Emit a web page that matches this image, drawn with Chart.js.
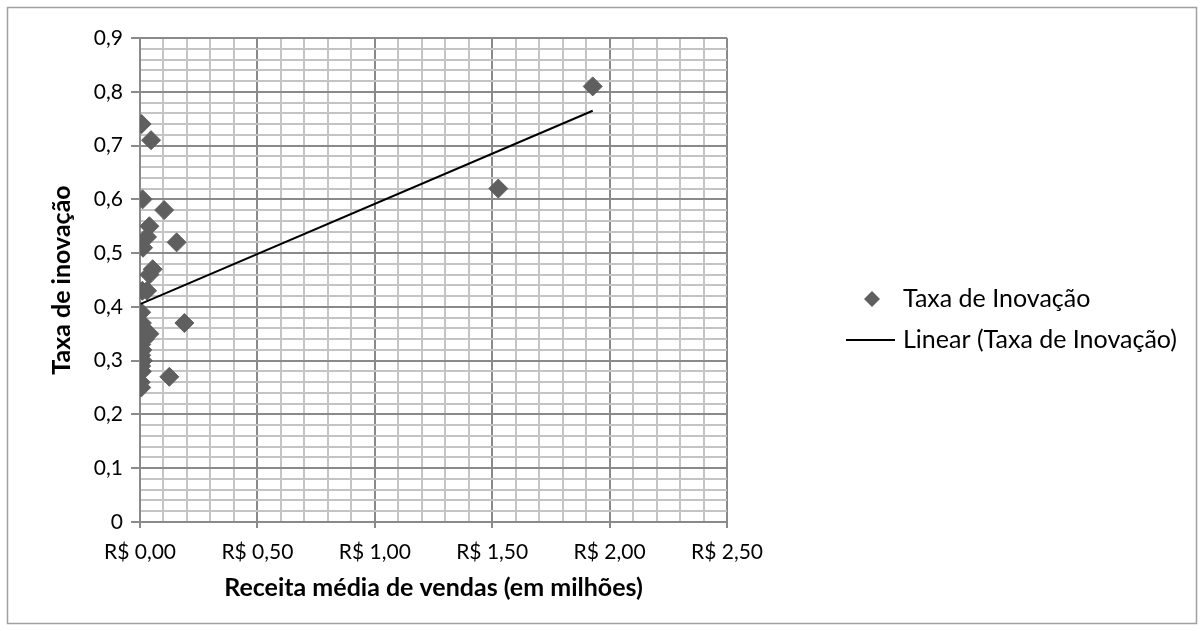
<!DOCTYPE html>
<html>
<head>
<meta charset="utf-8">
<script src="https://cdn.jsdelivr.net/npm/chart.js@4.4.1/dist/chart.umd.min.js"></script>
<style>
  html, body { margin: 0; padding: 0; background: #fff; }
  #wrap { width: 1204px; height: 631px; }
</style>
</head>
<body>
<div id="wrap"><canvas id="chart" width="1204" height="631"></canvas></div>
<script>
// ==================== DADOS ====================
// receita média de vendas (R$ milhões) e taxa de inovação de cada empresa
const receita = [0.007, 0.047, 0.011, 0.103, 0.040, 0.030, 0.013, 0.156, 0.054, 0.040,
                 0.010, 0.030, 0.005, 0.008, 0.040, 0.005, 0.005, 0.005, 0.005, 0.003,
                 0.005, 0.189, 0.125, 1.526, 1.928, 0.015, 0.020, 0.010, 0.005, 0.012,
                 0.008];
const taxa    = [0.74, 0.71, 0.60, 0.58, 0.55, 0.53, 0.51, 0.52, 0.47, 0.46,
                 0.43, 0.43, 0.39, 0.37, 0.35, 0.33, 0.31, 0.30, 0.29, 0.26,
                 0.25, 0.37, 0.27, 0.62, 0.81, 0.36, 0.34, 0.32, 0.34, 0.30,
                 0.28];
const serieLabel = 'Taxa de Inovação';
const trendLabel = 'Linear (Taxa de Inovação)';
const xTitle = 'Receita média de vendas (em milhões)';
const yTitle = 'Taxa de inovação';

const FONT = 'Lato, "Open Sans", sans-serif';
const MAJ = '#8a8a8a', MIN = '#c4c4c4', MARK = '#5f5f5f';

// linha de tendência linear (mínimos quadrados, como no Excel)
function linFit(xs, ys) {
  const n = xs.length;
  const mx = xs.reduce((s, v) => s + v, 0) / n;
  const my = ys.reduce((s, v) => s + v, 0) / n;
  let sxy = 0, sxx = 0;
  xs.forEach((x, i) => { sxy += (x - mx) * (ys[i] - my); sxx += (x - mx) * (x - mx); });
  const b = sxy / sxx;
  return { a: my - b * mx, b };
}
const fit = linFit(receita, taxa);
const xLo = Math.min(...receita), xHi = Math.max(...receita);

const isMul = (v, step) => Math.abs(v / step - Math.round(v / step)) < 1e-6;
const brl = v => 'R$ ' + v.toFixed(2).replace('.', ',');
const dec = v => v === 0 ? '0' : (Math.round(v * 10) / 10).toFixed(1).replace('.', ',');

// moldura externa
const frame = {
  id: 'frame',
  beforeDraw(chart) {
    const c = chart.ctx;
    c.save();
    c.fillStyle = '#fff';
    c.fillRect(0, 0, chart.width, chart.height);
    c.strokeStyle = '#a0a0a0';
    c.lineWidth = 1.5;
    c.strokeRect(7.5, 7.5, chart.width - 15, chart.height - 15);
    c.restore();
  }
};

// legenda à direita (desenhada à mão para posicionar como no original)
const sideLegend = {
  id: 'sideLegend',
  afterDraw(chart, args, o) {
    const c = chart.ctx, ds = chart.data.datasets;
    const x0 = chart.chartArea.right;
    c.save();
    c.font = o.font;
    c.textBaseline = 'middle';
    // item 1: losango
    let y = o.y1;
    c.fillStyle = MARK;
    c.beginPath();
    c.moveTo(x0 + o.markX, y - o.r);
    c.lineTo(x0 + o.markX + o.r, y);
    c.lineTo(x0 + o.markX, y + o.r);
    c.lineTo(x0 + o.markX - o.r, y);
    c.closePath();
    c.fill();
    c.fillStyle = '#000';
    c.fillText(ds[0].label, x0 + o.textX, y);
    // item 2: linha
    y = o.y2;
    c.strokeStyle = '#000';
    c.lineWidth = 2;
    c.beginPath();
    c.moveTo(x0 + o.lineX0, y);
    c.lineTo(x0 + o.lineX1, y);
    c.stroke();
    c.fillText(ds[1].label, x0 + o.textX, y);
    c.restore();
  }
};

new Chart(document.getElementById('chart'), {
  type: 'scatter',
  data: {
    datasets: [
      {
        label: serieLabel,
        data: receita.map((x, i) => ({ x, y: taxa[i] })),
        pointStyle: 'rectRot',
        pointRadius: 9.5,
        backgroundColor: MARK,
        borderColor: MARK,
        borderWidth: 1,
        order: 2
      },
      {
        label: trendLabel,
        type: 'line',
        data: [{ x: xLo, y: fit.a + fit.b * xLo }, { x: xHi, y: fit.a + fit.b * xHi }],
        borderColor: '#000',
        borderWidth: 2,
        pointRadius: 0,
        fill: false,
        order: 1
      }
    ]
  },
  options: {
    responsive: false,
    devicePixelRatio: 1,
    animation: false,
    layout: { padding: { left: 48, top: 38, right: 477, bottom: 29 } },
    plugins: {
      legend: { display: false },
      tooltip: { enabled: false },
      sideLegend: { font: '25px ' + FONT, y1: 299, y2: 340, markX: 145, r: 8, textX: 176, lineX0: 119, lineX1: 168 }
    },
    scales: {
      x: {
        type: 'linear', min: 0, max: 2.5,
        afterFit: s => { s.height = 80; },
        border: { color: MAJ, width: 2 },
        grid: {
          lineWidth: 2,
          color: ctx => isMul(ctx.tick.value, 0.5) ? MAJ : MIN,
          tickColor: ctx => isMul(ctx.tick.value, 0.5) ? MAJ : 'rgba(0,0,0,0)',
          tickLength: 6
        },
        ticks: {
          stepSize: 0.1, maxTicksLimit: 100, autoSkip: false, maxRotation: 0,
          padding: 12, color: '#000', font: { family: FONT, size: 21 },
          callback: v => isMul(v, 0.5) ? brl(v) : ''
        },
        title: { display: true, text: xTitle, color: '#000', padding: 0,
                 font: { family: FONT, size: 25, weight: 'bold', lineHeight: 1.1 } }
      },
      y: {
        min: 0, max: 0.9,
        afterFit: s => { s.width = 92; },
        border: { color: MAJ, width: 2 },
        grid: {
          lineWidth: 2,
          color: ctx => isMul(ctx.tick.value, 0.1) ? MAJ : MIN,
          tickColor: ctx => isMul(ctx.tick.value, 0.1) ? MAJ : 'rgba(0,0,0,0)',
          tickLength: 9
        },
        ticks: {
          stepSize: 0.02, maxTicksLimit: 100, autoSkip: false,
          padding: 8, color: '#000', font: { family: FONT, size: 21 },
          callback: v => isMul(v, 0.1) ? dec(v) : ''
        },
        title: { display: true, text: yTitle, color: '#000', padding: 0,
                 font: { family: FONT, size: 25, weight: 'bold', lineHeight: 1.1 } }
      }
    }
  },
  plugins: [frame, sideLegend]
});
</script>
</body>
</html>
